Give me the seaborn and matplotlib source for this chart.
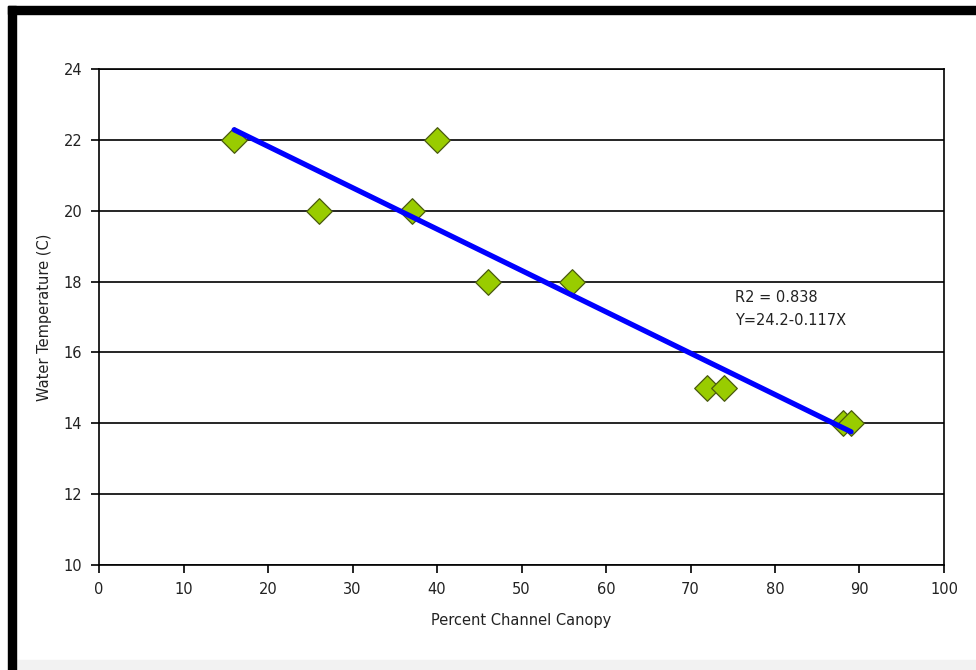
import numpy as np
import pandas as pd
import seaborn as sns
import matplotlib.pyplot as plt
from matplotlib.patches import Rectangle

# stream sites: canopy cover vs water temperature
canopy = [16, 26, 37, 40, 46, 56, 72, 74, 88, 89]
water_temp = [22, 20, 20, 22, 18, 18, 15, 15, 14, 14]
x_ticks = [0, 10, 20, 30, 40, 50, 60, 70, 80, 90, 100]
y_ticks = [10, 12, 14, 16, 18, 20, 22, 24]
fit_text = ["R2 = 0.838", "Y=24.2-0.117X"]

df = pd.DataFrame({"canopy": canopy, "temp": water_temp})

sns.set_theme(style="white")
plt.rcParams['font.family'] = ['DejaVu Sans']

fig = plt.figure(figsize=(9.76, 6.70), dpi=100)
ax = fig.add_axes([99/976, 1-565/670, (944-99)/976, (565-69)/670])

sns.scatterplot(data=df, x="canopy", y="temp", marker="D", s=170,
                color="#99CC00", edgecolor="#4a5a10", linewidth=0.9,
                zorder=3, ax=ax)
sns.regplot(data=df, x="canopy", y="temp", ci=None, scatter=False, truncate=True,
            line_kws={"color": "#0000FF", "lw": 3.8, "zorder": 4}, ax=ax)

ax.set_xlim(0, 100)
ax.set_ylim(10, 24)
ax.set_xticks(x_ticks)
ax.set_yticks(y_ticks)
ax.yaxis.grid(True, color="black", lw=1.2)
ax.set_axisbelow(True)
for s in ax.spines.values():
    s.set_color("black")
    s.set_linewidth(1.2)
fs = 10.5
ax.tick_params(axis="both", direction="out", length=6, width=1.2, color="black",
               labelsize=fs, pad=6, bottom=True, left=True, labelcolor="#222222")
ax.set_xlabel("Percent Channel Canopy", fontsize=fs, labelpad=12, color="#222222")
ax.set_ylabel("Water Temperature (C)", fontsize=fs, labelpad=8, color="#222222")

ax.text(75.3, 17.55, fit_text[0], fontsize=fs, va="center", color="#222222")
ax.text(75.3, 16.9, fit_text[1], fontsize=fs, va="center", color="#222222")

# picture frame: thick black on top and left, gray strip at bottom
fig.patches.append(Rectangle((8/976, 1-14/670), 1, 8/670, transform=fig.transFigure,
                             color="black", zorder=10))
fig.patches.append(Rectangle((8/976, 0), 8/976, 1-6/670, transform=fig.transFigure,
                             color="black", zorder=10))
fig.patches.append(Rectangle((16/976, 0), 1, 10/670, transform=fig.transFigure,
                             color="#f2f2f2", zorder=9))

fig.savefig("out.png", dpi=100)
